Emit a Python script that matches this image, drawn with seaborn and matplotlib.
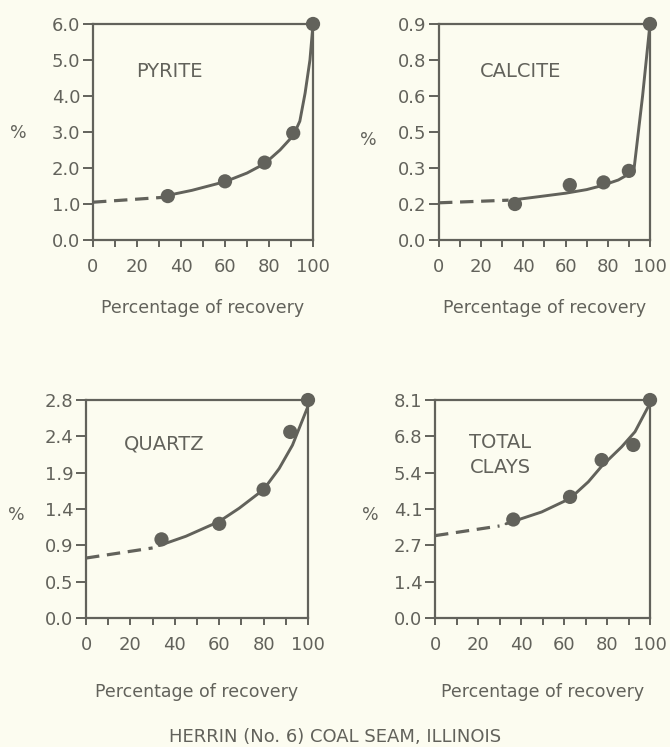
import numpy as np
import pandas as pd
import matplotlib
matplotlib.use("Agg")
import matplotlib.pyplot as plt
import seaborn as sns

# Recovery percentages of the float fractions (x) and mineral content (y)
pyrite_pts_x = [34, 60, 78, 91, 100]
pyrite_pts_y = [1.22, 1.63, 2.15, 2.97, 6.0]
pyrite_fit_x = [34, 45, 60, 70, 78, 85, 91, 94, 96.4, 98.6, 100]
pyrite_fit_y = [1.24, 1.38, 1.62, 1.86, 2.12, 2.5, 2.9, 3.3, 4.08, 5.0, 6.0]
pyrite_ext_x = [0, 33]
pyrite_ext_y = [1.05, 1.19]

calcite_pts_x = [36, 62, 78, 90, 100]
calcite_pts_y = [0.15, 0.229, 0.24, 0.288, 0.9]
calcite_fit_x = [36, 45, 60, 70, 77, 85, 90, 92.5, 96.5, 100]
calcite_fit_y = [0.168, 0.178, 0.195, 0.21, 0.226, 0.25, 0.275, 0.30, 0.6, 0.9]
calcite_ext_x = [0, 33]
calcite_ext_y = [0.155, 0.166]

quartz_pts_x = [34, 60, 80, 92, 100]
quartz_pts_y = [1.01, 1.21, 1.65, 2.39, 2.8]
quartz_fit_x = [33, 45, 60, 69, 80, 87, 93, 100]
quartz_fit_y = [0.93, 1.05, 1.24, 1.41, 1.65, 1.92, 2.22, 2.72]
quartz_ext_x = [0, 30]
quartz_ext_y = [0.77, 0.90]

clays_pts_x = [36.4, 62.8, 77.5, 92.2, 100]
clays_pts_y = [3.66, 4.5, 5.87, 6.43, 8.1]
clays_fit_x = [33, 49.6, 62.8, 71.3, 77.5, 86.8, 93, 100]
clays_fit_y = [3.5, 3.94, 4.44, 5.06, 5.64, 6.36, 6.92, 7.98]
clays_ext_x = [0, 30]
clays_ext_y = [3.06, 3.42]

# Axis limits and tick labels for each panel
pyrite_ymax, pyrite_ylabels = 6.0, ["0.0", "1.0", "2.0", "3.0", "4.0", "5.0", "6.0"]
calcite_ymax, calcite_ylabels = 0.9, ["0.0", "0.2", "0.3", "0.5", "0.6", "0.8", "0.9"]
quartz_ymax, quartz_ylabels = 2.8, ["0.0", "0.5", "0.9", "1.4", "1.9", "2.4", "2.8"]
clays_ymax, clays_ylabels = 8.1, ["0.0", "1.4", "2.7", "4.1", "5.4", "6.8", "8.1"]
x_ticklabels = ["0", "20", "40", "60", "80", "100"]

INK = "#62625b"
PAPER = "#fcfcf0"
FONT = ["DejaVu Sans"]

sns.set_theme(style="ticks")
plt.rcParams["font.family"] = FONT
plt.rcParams["text.color"] = INK

fig = plt.figure(figsize=(6.7, 7.47), dpi=100, facecolor=PAPER)

panels = [
    dict(rect=[0.1388, 0.6787, 0.3284, 0.2892], name="PYRITE", nx=19.5, ny=0.78,
         pts=(pyrite_pts_x, pyrite_pts_y), fit=(pyrite_fit_x, pyrite_fit_y),
         ext=(pyrite_ext_x, pyrite_ext_y), ymax=pyrite_ymax, ylabels=pyrite_ylabels,
         pct=(10, 133), xlab_y=308),
    dict(rect=[0.6552, 0.6787, 0.3149, 0.2892], name="CALCITE", nx=19.5, ny=0.78,
         pts=(calcite_pts_x, calcite_pts_y), fit=(calcite_fit_x, calcite_fit_y),
         ext=(calcite_ext_x, calcite_ext_y), ymax=calcite_ymax, ylabels=calcite_ylabels,
         pct=(360, 140), xlab_y=308),
    dict(rect=[0.1284, 0.1727, 0.3313, 0.2918], name="QUARTZ", nx=17, ny=0.80,
         pts=(quartz_pts_x, quartz_pts_y), fit=(quartz_fit_x, quartz_fit_y),
         ext=(quartz_ext_x, quartz_ext_y), ymax=quartz_ymax, ylabels=quartz_ylabels,
         pct=(8, 515), xlab_y=692),
    dict(rect=[0.6493, 0.1727, 0.3209, 0.2918], name="TOTAL\nCLAYS", nx=16, ny=0.75,
         pts=(clays_pts_x, clays_pts_y), fit=(clays_fit_x, clays_fit_y),
         ext=(clays_ext_x, clays_ext_y), ymax=clays_ymax, ylabels=clays_ylabels,
         pct=(362, 515), xlab_y=692),
]

W, H = 670, 747

for p in panels:
    ax = fig.add_axes(p["rect"])
    ax.set_facecolor(PAPER)
    ext = pd.DataFrame({"x": p["ext"][0], "y": p["ext"][1]})
    fit = pd.DataFrame({"x": p["fit"][0], "y": p["fit"][1]})
    pts = pd.DataFrame({"x": p["pts"][0], "y": p["pts"][1]})
    sns.lineplot(data=ext, x="x", y="y", ax=ax, color=INK, lw=2.3,
                 linestyle=(0, (4.2, 2.4)), sort=False, clip_on=False)
    sns.lineplot(data=fit, x="x", y="y", ax=ax, color=INK, lw=2.1,
                 sort=False, clip_on=False)
    sns.scatterplot(data=pts, x="x", y="y", ax=ax, color=INK, s=105,
                    edgecolor="none", clip_on=False, zorder=5)

    ax.set_xlim(0, 100)
    ax.set_ylim(0, p["ymax"])
    ax.set_xticks(np.arange(0, 101, 20))
    ax.set_xticklabels(x_ticklabels)
    ax.set_xticks(np.arange(10, 100, 20), minor=True)
    ax.set_yticks(np.linspace(0, p["ymax"], 7))
    ax.set_yticklabels(p["ylabels"])
    ax.tick_params(axis="both", which="both", colors=INK, width=1.4,
                   direction="out", labelsize=13)
    ax.tick_params(axis="x", which="both", length=5, pad=8)
    ax.tick_params(axis="y", length=7, pad=2)
    for s in ax.spines.values():
        s.set_color(INK)
        s.set_linewidth(1.6)
    ax.set_xlabel("")
    ax.set_ylabel("")
    ax.text(p["nx"], p["ny"] * p["ymax"], p["name"], transform=ax.transData,
            fontsize=14, color=INK, ha="left", va="center",
            linespacing=1.4)

    fig.text(p["pct"][0] / W, 1 - p["pct"][1] / H, "%", fontsize=12.5,
             color=INK, ha="left", va="center")
    cx = (p["rect"][0] + p["rect"][2] / 2)
    fig.text(cx, 1 - p["xlab_y"] / H, "Percentage of recovery",
             fontsize=12.5, color=INK, ha="center", va="center")

fig.text(335 / W, 1 - 737 / H, "HERRIN (No. 6) COAL SEAM, ILLINOIS",
         fontsize=13, color=INK, ha="center", va="center")

fig.savefig("out.png", dpi=100, facecolor=PAPER)
